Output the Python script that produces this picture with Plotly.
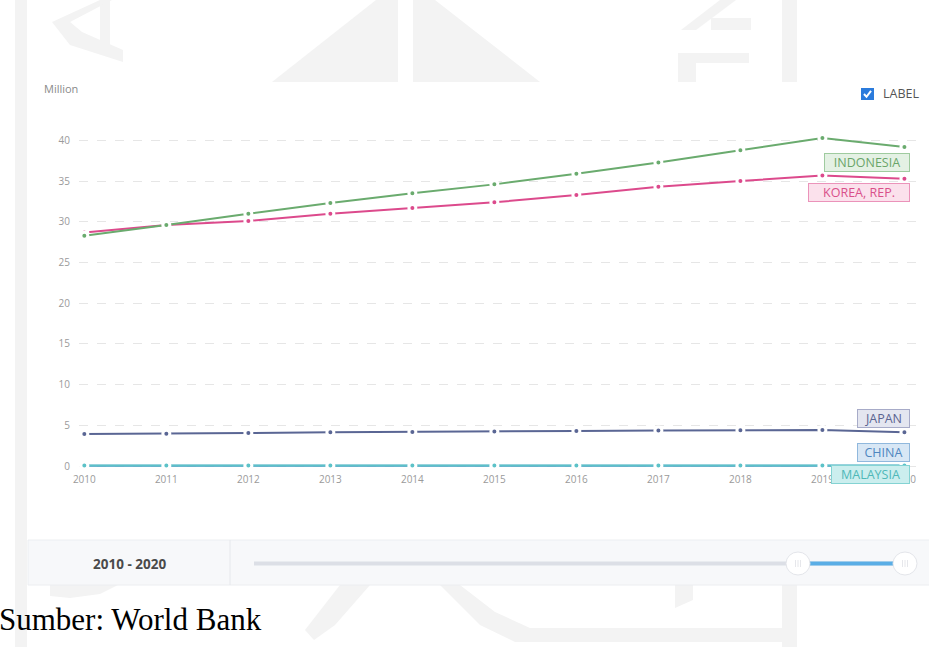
import plotly.graph_objects as go

years = [2010, 2011, 2012, 2013, 2014, 2015, 2016, 2017, 2018, 2019, 2020]
indonesia = [28.3, 29.6, 31.0, 32.3, 33.5, 34.6, 35.9, 37.3, 38.8, 40.3, 39.2]
korea = [28.7, 29.6, 30.1, 31.0, 31.7, 32.4, 33.3, 34.3, 35.0, 35.7, 35.3]
japan = [3.93, 3.95, 4.05, 4.15, 4.18, 4.24, 4.30, 4.36, 4.38, 4.42, 4.14]
china = [0.03, 0.03, 0.03, 0.03, 0.03, 0.03, 0.03, 0.03, 0.03, 0.03, 0.03]
malaysia = [0.05, 0.05, 0.05, 0.05, 0.05, 0.05, 0.05, 0.05, 0.05, 0.05, 0.05]

series_names = ["INDONESIA", "KOREA, REP.", "JAPAN", "CHINA", "MALAYSIA"]
yticks = [0, 5, 10, 15, 20, 25, 30, 35, 40]
range_label = "2010 - 2020"
source_text = "Sumber: World Bank"

W, H = 929, 647
L, R, T, B = 79, 920, 130, 470


def px(x):
    return (x - L) / (R - L)


def py(y):
    return (B - y) / (B - T)


colors = {
    "INDONESIA": "#6aab6e",
    "KOREA, REP.": "#dc4a8c",
    "JAPAN": "#5a6694",
    "CHINA": "#4f8fca",
    "MALAYSIA": "#5cc2c8",
}
box_style = {
    "INDONESIA": ("#e4f1e4", "#9fcb9f", "#6aa56a", 162.5, 86),
    "KOREA, REP.": ("#fbe1ec", "#eb93ba", "#d9508a", 192.7, 102),
    "JAPAN": ("#e4e6f0", "#a7abc8", "#5b6491", 418, 53),
    "CHINA": ("#d8e7f5", "#90b8dd", "#4f86bf", 452, 53),
    "MALAYSIA": ("#cbeeee", "#84d3d3", "#4fb8b8", 474.5, 79),
}

fig = go.Figure()
data = {"INDONESIA": indonesia, "KOREA, REP.": korea, "JAPAN": japan,
        "CHINA": china, "MALAYSIA": malaysia}
for name in ["CHINA", "MALAYSIA", "JAPAN", "KOREA, REP.", "INDONESIA"]:
    fig.add_trace(go.Scatter(
        x=years, y=data[name], name=name, mode="lines+markers",
        line=dict(color=colors[name], width=2),
        marker=dict(size=7, color=colors[name], line=dict(color="white", width=3)),
        showlegend=False, cliponaxis=False,
    ))

shapes = []
WM = "#f3f3f3"


def poly(points, color=WM, layer="below"):
    d = "M " + " L ".join(f"{px(x):.5f},{py(y):.5f}" for x, y in points) + " Z"
    return dict(type="path", xref="paper", yref="paper", path=d,
                fillcolor=color, line=dict(width=0), layer=layer)


def rect(x0, y0, x1, y1, fill, line_color=None, lw=0, layer="below"):
    return dict(type="rect", xref="paper", yref="paper",
                x0=px(x0), x1=px(x1), y0=py(y1), y1=py(y0),
                fillcolor=fill, line=dict(width=lw, color=line_color or fill),
                layer=layer)


# watermark (page background)
shapes.append(rect(15, 0, 27, 647, WM))
shapes.append(rect(782, 0, 797, 647, WM))
shapes.append(rect(100, 0, 110, 45, WM))
shapes.append(poly([(112, 0), (100, 0), (52, 22), (70, 45), (123, 62), (123, 50), (82, 32), (70, 22)]))
shapes.append(poly([(376, 0), (398, 0), (398, 82), (272, 82)]))
shapes.append(poly([(413, 0), (435, 0), (540, 82), (413, 82)]))
shapes.append(poly([(720, 0), (736, 0), (696, 30), (681, 30)]))
shapes.append(rect(711, 18, 751, 30, WM))
shapes.append(rect(678, 53, 749, 63, WM))
shapes.append(rect(678, 53, 696, 82, WM))
# bottom watermark
shapes.append(poly([(50, 585), (118, 585), (100, 594), (70, 598), (50, 596)]))
shapes.append(poly([(340, 585), (370, 585), (335, 625), (314, 640), (305, 630)]))
shapes.append(poly([(440, 585), (460, 585), (495, 612), (530, 628), (782, 628), (782, 642), (515, 642), (480, 625)]))
shapes.append(poly([(675, 585), (693, 585), (693, 600), (675, 608)]))

# chart panel (white screenshot)
shapes.append(rect(28, 82, 935, 540, "white"))
# slider panel
shapes.append(rect(28, 540, 935, 585, "#f7f8fa", "#eceef1", 1, layer="above"))
shapes.append(dict(type="line", xref="paper", yref="paper", x0=px(230), x1=px(230),
                   y0=py(540), y1=py(585), line=dict(color="#e6e8ec", width=1), layer="above"))
shapes.append(dict(type="line", xref="paper", yref="paper", x0=px(254), x1=px(905),
                   y0=py(563.5), y1=py(563.5), line=dict(color="#dcdfe6", width=4), layer="above"))
shapes.append(dict(type="line", xref="paper", yref="paper", x0=px(798), x1=px(905),
                   y0=py(563.5), y1=py(563.5), line=dict(color="#5aaee6", width=4), layer="above"))
for hx in (798, 905):
    shapes.append(dict(type="circle", xref="paper", yref="paper",
                       x0=px(hx - 12), x1=px(hx + 12), y0=py(563.5 + 11.5), y1=py(563.5 - 11.5),
                       fillcolor="white", line=dict(color="#e3e5ea", width=1), layer="above"))
    for dx in (-2.5, 0, 2.5):
        shapes.append(dict(type="line", xref="paper", yref="paper",
                           x0=px(hx + dx), x1=px(hx + dx), y0=py(560), y1=py(567),
                           line=dict(color="#dfe1e6", width=0.8), layer="above"))
# checkbox
shapes.append(rect(861, 88, 874, 100, "#2b7bdc", layer="above"))
shapes.append(dict(type="path", xref="paper", yref="paper",
                   path=f"M {px(864):.5f},{py(94):.5f} L {px(866.5):.5f},{py(96.8):.5f} L {px(871):.5f},{py(90.8):.5f}",
                   line=dict(color="white", width=2), layer="above"))

annotations = []
FONT = "Open Sans"
for name in series_names:
    fill, border, tcolor, cy, bw = box_style[name]
    annotations.append(dict(
        xref="paper", yref="paper", x=px(910), y=py(cy), xanchor="right", yanchor="middle",
        text=name, showarrow=False, font=dict(family=FONT, size=12.5, color=tcolor),
        bgcolor=fill, bordercolor=border, borderwidth=1, borderpad=1,
        width=bw - 4, height=15, align="center",
    ))
annotations.append(dict(xref="paper", yref="paper", x=px(42), y=py(88), xanchor="left",
                        yanchor="middle", text="Million", showarrow=False,
                        font=dict(family=FONT, size=11, color="#8a8a8a")))
annotations.append(dict(xref="paper", yref="paper", x=px(881), y=py(94), xanchor="left",
                        yanchor="middle", text="LABEL", showarrow=False,
                        font=dict(family=FONT, size=12.5, color="#555555")))
annotations.append(dict(xref="paper", yref="paper", x=px(129), y=py(564), xanchor="center",
                        yanchor="middle", text=f"<b>{range_label}</b>", showarrow=False,
                        font=dict(family=FONT, size=13.5, color="#4a4a4a")))
annotations.append(dict(xref="paper", yref="paper", x=px(-3), y=py(619), xanchor="left",
                        yanchor="middle", text=source_text, showarrow=False,
                        font=dict(family="Liberation Serif", size=31, color="black")))

fig.update_layout(
    width=W, height=H,
    margin=dict(l=L, r=W - R, t=T, b=H - B, pad=0),
    paper_bgcolor="white", plot_bgcolor="rgba(0,0,0,0)",
    shapes=shapes, annotations=annotations,
    xaxis=dict(range=[2009.935, 2020.19], tickvals=years, ticktext=[str(y) for y in years],
               showgrid=False, zeroline=False, showline=False, ticks="",
               tickfont=dict(family=FONT, size=10, color="#9a9a9a"), ticklabelstandoff=2),
    yaxis=dict(range=[-0.49, 41.28], tickvals=yticks, showgrid=True,
               gridcolor="#e6e6e6", griddash="dash", gridwidth=1, zeroline=False,
               showline=False, ticks="", ticklabelstandoff=8,
               tickfont=dict(family=FONT, size=10, color="#9a9a9a")),
    showlegend=False,
)

fig.write_html("out.html")
